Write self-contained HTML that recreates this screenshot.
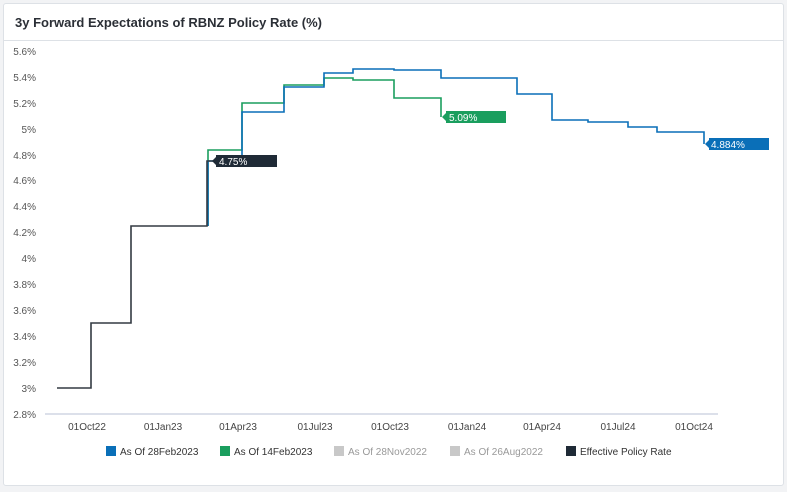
<!DOCTYPE html>
<html><head><style>
body{margin:0;background:#f2f3f5;font-family:"Liberation Sans",sans-serif;}
.card{position:absolute;left:3px;top:3px;width:779px;height:481px;background:#fff;border:1px solid #dde1e6;border-radius:3px;}
.title{position:absolute;left:11px;top:11px;font-size:13px;font-weight:bold;color:#2b2f36;}
.sep{position:absolute;left:0;top:36px;width:779px;height:1px;background:#dde1e6;}
</style></head><body>
<div class="card"><div class="title">3y Forward Expectations of RBNZ Policy Rate (%)</div><div class="sep"></div></div>
<svg width="787" height="492" style="position:absolute;left:0;top:0" font-family="Liberation Sans, sans-serif">
<g font-size="10" fill="#555" text-anchor="end">
<text x="36" y="55">5.6%</text><text x="36" y="81">5.4%</text><text x="36" y="107">5.2%</text><text x="36" y="133">5%</text><text x="36" y="159">4.8%</text><text x="36" y="184">4.6%</text><text x="36" y="210">4.4%</text><text x="36" y="236">4.2%</text><text x="36" y="262">4%</text><text x="36" y="288">3.8%</text><text x="36" y="314">3.6%</text><text x="36" y="340">3.4%</text><text x="36" y="366">3.2%</text><text x="36" y="392">3%</text><text x="36" y="418">2.8%</text>
</g>
<line x1="45" y1="414" x2="718" y2="414" stroke="#b8c2d4" stroke-width="1"/>
<g font-size="10" fill="#444" text-anchor="middle">
<text x="87" y="430">01Oct22</text><text x="163" y="430">01Jan23</text><text x="238" y="430">01Apr23</text><text x="315" y="430">01Jul23</text><text x="390" y="430">01Oct23</text><text x="467" y="430">01Jan24</text><text x="542" y="430">01Apr24</text><text x="618" y="430">01Jul24</text><text x="694" y="430">01Oct24</text>
</g>
<polyline fill="none" stroke="#1a9e5e" stroke-width="1.6" points="208,226 208,150 242,150 242,103 284,103 284,85 324,85 324,78 353,78 353,80 394,80 394,98 441,98 441,117"/>
<polyline fill="none" stroke="#0a6fb8" stroke-width="1.6" points="208,226 208,161 242,161 242,112 284,112 284,87 324,87 324,73 353,73 353,69 394,69 394,70 441,70 441,78 517,78 517,94 552,94 552,120 588,120 588,122 628,122 628,127 657,127 657,132 704,132 704,144"/>
<polyline fill="none" stroke="#333a42" stroke-width="1.6" points="57,388 91,388 91,323 131,323 131,226 207,226 207,161 215,161"/>
<rect x="216" y="155" width="61" height="12" fill="#1f2a36"/><polygon points="212,161 217,156 217,166" fill="#1f2a36"/>
<text x="219" y="165" font-size="10" fill="#fff">4.75%</text>
<rect x="446" y="111" width="60" height="12" fill="#1a9e5e"/><polygon points="442,117 447,112 447,122" fill="#1a9e5e"/>
<text x="449" y="121" font-size="10" fill="#fff">5.09%</text>
<rect x="709" y="138" width="60" height="12" fill="#0a6fb8"/><polygon points="705,144 710,139 710,149" fill="#0a6fb8"/>
<text x="711" y="148" font-size="10" fill="#fff">4.884%</text>
<g font-size="10">
<rect x="106" y="446" width="10" height="10" fill="#0a6fb8"/><text x="120" y="455" fill="#333">As Of 28Feb2023</text>
<rect x="220" y="446" width="10" height="10" fill="#1a9e5e"/><text x="234" y="455" fill="#333">As Of 14Feb2023</text>
<rect x="334" y="446" width="10" height="10" fill="#c8c8c8"/><text x="348" y="455" fill="#999">As Of 28Nov2022</text>
<rect x="450" y="446" width="10" height="10" fill="#c8c8c8"/><text x="464" y="455" fill="#999">As Of 26Aug2022</text>
<rect x="566" y="446" width="10" height="10" fill="#1f2a36"/><text x="580" y="455" fill="#333">Effective Policy Rate</text>
</g>
</svg>
</body></html>
